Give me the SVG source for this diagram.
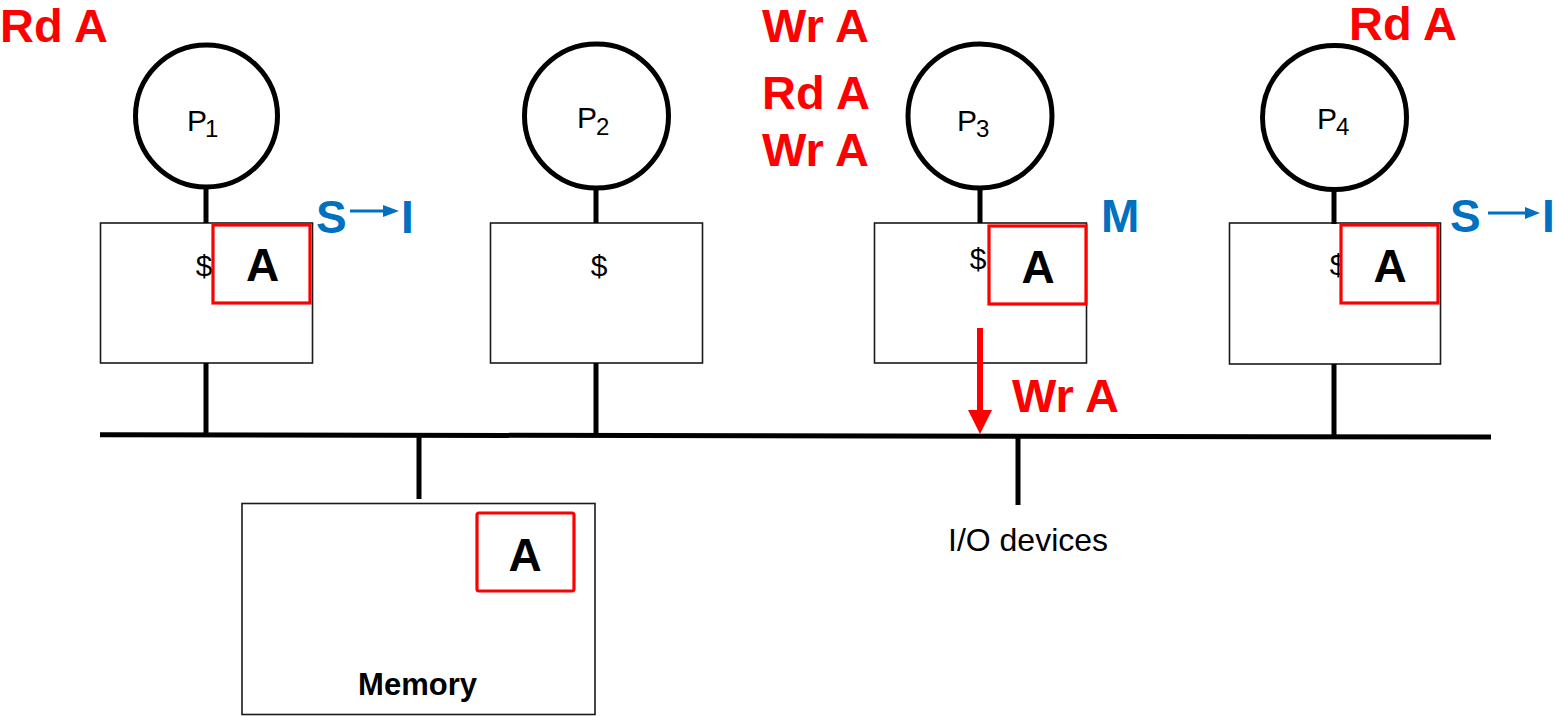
<svg xmlns="http://www.w3.org/2000/svg" width="1555" height="716" viewBox="0 0 1555 716">
<style>
text{font-family:"Liberation Sans",Arial,sans-serif}
.cpu{fill:#fff;stroke:#000;stroke-width:5}
.cache{fill:#fff;stroke:#1a1a1a;stroke-width:1.6}
.blk{fill:#fff;stroke:#ff0000;stroke-width:3.2}
.wire{stroke:#000;stroke-width:5;fill:none}
.pl{font-size:30px;fill:#000}
.sub{font-size:24px}
.dol{font-size:30px;fill:#000;text-anchor:middle}
.ba{font-size:46px;font-weight:bold;fill:#000;text-anchor:middle}
.op{font-size:47px;font-weight:bold;fill:#ff0000}
.st{font-size:46px;font-weight:bold;fill:#0070c0}
.bl{stroke:#0070c0;stroke-width:3}
</style>
<g id="p1">
<circle class="cpu" cx="206.5" cy="116" r="71"/>
<text class="pl" x="187" y="131">P<tspan class="sub" dx="-2" dy="6">1</tspan></text>
</g>
<g id="p2">
<circle class="cpu" cx="596.5" cy="116" r="72"/>
<text class="pl" x="577" y="128">P<tspan class="sub" dx="-1" dy="7">2</tspan></text>
</g>
<g id="p3">
<circle class="cpu" cx="980" cy="116" r="72"/>
<text class="pl" x="957" y="131">P<tspan class="sub" dx="-1" dy="6">3</tspan></text>
</g>
<g id="p4">
<circle class="cpu" cx="1334.5" cy="117.5" r="72"/>
<text class="pl" x="1317" y="129">P<tspan class="sub" dx="-1" dy="6">4</tspan></text>
</g>
<g id="cache1">
<rect class="cache" x="100.5" y="223" width="212" height="140"/>
<text class="dol" x="204" y="276">$</text>
<rect class="blk" x="213" y="225" width="97" height="78"/>
<text class="ba" x="262.5" y="281">A</text>
</g>
<g id="cache2">
<rect class="cache" x="490.5" y="223" width="212" height="140"/>
<text class="dol" x="599" y="276">$</text>
</g>
<g id="cache3">
<rect class="cache" x="874.5" y="223" width="212" height="140"/>
<text class="dol" x="978" y="269">$</text>
<rect class="blk" x="989" y="226" width="97" height="78"/>
<text class="ba" x="1038" y="283">A</text>
</g>
<g id="cache4">
<rect class="cache" x="1229.5" y="223" width="211" height="141"/>
<text class="dol" x="1338" y="275">$</text>
<rect class="blk" x="1341" y="225" width="97" height="78"/>
<text class="ba" x="1390" y="282">A</text>
</g>
<g id="memory">
<rect class="cache" x="242" y="503.5" width="353" height="211"/>
<rect class="blk" x="477" y="513" width="97" height="78" rx="2"/>
<text class="ba" x="525" y="571">A</text>
<text x="417.5" y="695" font-size="31" font-weight="bold" text-anchor="middle" fill="#000">Memory</text>
</g>
<g id="io">
<text x="948" y="551" font-size="32" fill="#000">I/O devices</text>
</g>
<g id="connectors">
<line class="wire" x1="100" y1="434.7" x2="1491" y2="437"/>
<line class="wire" x1="206" y1="187" x2="206" y2="223"/>
<line class="wire" x1="596" y1="188" x2="596" y2="223"/>
<line class="wire" x1="980" y1="188" x2="980" y2="223"/>
<line class="wire" x1="1334" y1="189" x2="1334" y2="224"/>
<line class="wire" x1="206" y1="363" x2="206" y2="435"/>
<line class="wire" x1="596" y1="363" x2="596" y2="436"/>
<line class="wire" x1="1334" y1="364" x2="1334" y2="437"/>
<line class="wire" x1="419" y1="436" x2="419" y2="499"/>
<line class="wire" x1="1018" y1="437" x2="1018" y2="505"/>
<line x1="980" y1="328" x2="980" y2="412" stroke="#ff0000" stroke-width="6"/>
<polygon points="968,410 992,410 980,434" fill="#ff0000"/>
</g>
<g id="labels">
<text class="op" x="0" y="42">Rd A</text>
<text class="op" x="762" y="42">Wr A</text>
<text class="op" x="762" y="109">Rd A</text>
<text class="op" x="762" y="166">Wr A</text>
<text class="op" x="1349" y="40">Rd A</text>
<text class="op" x="1012" y="412">Wr A</text>
<text class="st" x="316" y="233">S</text>
<line class="bl" x1="350" y1="211" x2="385" y2="211"/>
<polygon points="383,205 383,217 399,211" fill="#0070c0"/>
<text class="st" x="401" y="233">I</text>
<text class="st" x="1101" y="232">M</text>
<text class="st" x="1450" y="232">S</text>
<line class="bl" x1="1488" y1="213" x2="1527" y2="213"/>
<polygon points="1525,207 1525,219 1540,213" fill="#0070c0"/>
<text class="st" x="1542" y="232">I</text>
</g>
</svg>
